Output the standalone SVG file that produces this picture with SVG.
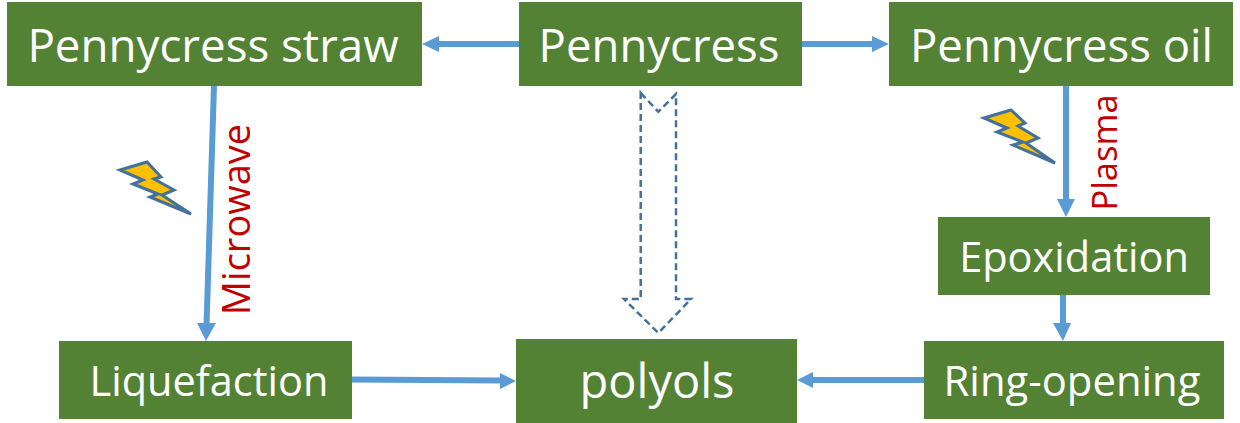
<svg xmlns="http://www.w3.org/2000/svg" width="1240" height="423" viewBox="0 0 1240 423">
<style>
.box{fill:#548235}
.t{font-family:"Open Sans","Noto Sans",sans-serif;fill:#fff;text-anchor:middle}
.l{font-family:"Open Sans","Noto Sans",sans-serif;fill:#c00000;text-anchor:middle}
.c{stroke:#5b9bd5;stroke-width:6;fill:none}
.h{fill:#5b9bd5}
.bolt{fill:#ffc000;stroke:#41719c;stroke-width:3;stroke-linejoin:miter}
</style>
<rect width="1240" height="423" fill="#fff"/>
<g id="connectors">
<line class="c" x1="519" y1="44" x2="438" y2="44"/><polygon class="h" points="422,44 439,36 439,52"/>
<line class="c" x1="802" y1="44" x2="873" y2="44"/><polygon class="h" points="889,44 872,36 872,52"/>
<line class="c" x1="214" y1="86" x2="206.500" y2="326"/><polygon class="h" points="206,341 197,323 216,323"/>
<line class="c" x1="1066" y1="85" x2="1066" y2="201"/><polygon class="h" points="1066,217 1057,199 1075,199"/>
<line class="c" x1="1063" y1="295" x2="1063" y2="326"/><polygon class="h" points="1063,341 1053,323 1071,323"/>
<line class="c" x1="352" y1="379.500" x2="502" y2="380.500"/><polygon class="h" points="516,381 500,373 500,389"/>
<line class="c" x1="924" y1="380" x2="812" y2="380"/><polygon class="h" points="797,380 813,372 813,388"/>
<polygon points="640.700,93 658.300,111.700 676,94 676,299 691,299 658.300,333 624,299 640.700,299" fill="#fff" stroke="#41719c" stroke-width="2.500" stroke-dasharray="7 4"/>
</g>
<g id="pennycress-straw"><rect class="box" x="7" y="2" width="415" height="84"/><text class="t" x="213" y="62" font-size="45.700">Pennycress straw</text></g>
<g id="pennycress"><rect class="box" x="519" y="2" width="283" height="84"/><text class="t" x="659" y="62" font-size="45.500">Pennycress</text></g>
<g id="pennycress-oil"><rect class="box" x="889" y="2" width="344" height="84"/><text class="t" x="1061.500" y="62" font-size="45.500">Pennycress oil</text></g>
<g id="epoxidation"><rect class="box" x="938" y="217" width="272" height="78"/><text class="t" x="1074" y="272" font-size="41.500">Epoxidation</text></g>
<g id="liquefaction"><rect class="box" x="59" y="341" width="293" height="78"/><text class="t" x="209" y="396" font-size="41.500">Liquefaction</text></g>
<g id="polyols"><rect class="box" x="516" y="339" width="281" height="84"/><text class="t" x="657" y="398" font-size="47">polyols</text></g>
<g id="ring-opening"><rect class="box" x="924" y="341" width="300" height="78"/><text class="t" x="1072" y="396" font-size="41.800">Ring-opening</text></g>
<g id="microwave-label"><text class="l" font-size="38" transform="translate(250 219.500) rotate(-90)">Microwave</text></g>
<g id="plasma-label"><text class="l" font-size="34.500" transform="translate(1117 152.500) rotate(-90)">Plasma</text></g>
<g id="microwave-bolt"><polygon class="bolt" points="120,170 147,162 161,177 154,179 174,190 162,195 191,214 150,197 158,194 133,184 143,180"/></g>
<g id="plasma-bolt"><polygon class="bolt" points="984,118 1011,110 1025,123 1018,126 1038,138 1026,143 1055,163 1013,145 1023,142 997,132 1007,128"/></g>
</svg>
